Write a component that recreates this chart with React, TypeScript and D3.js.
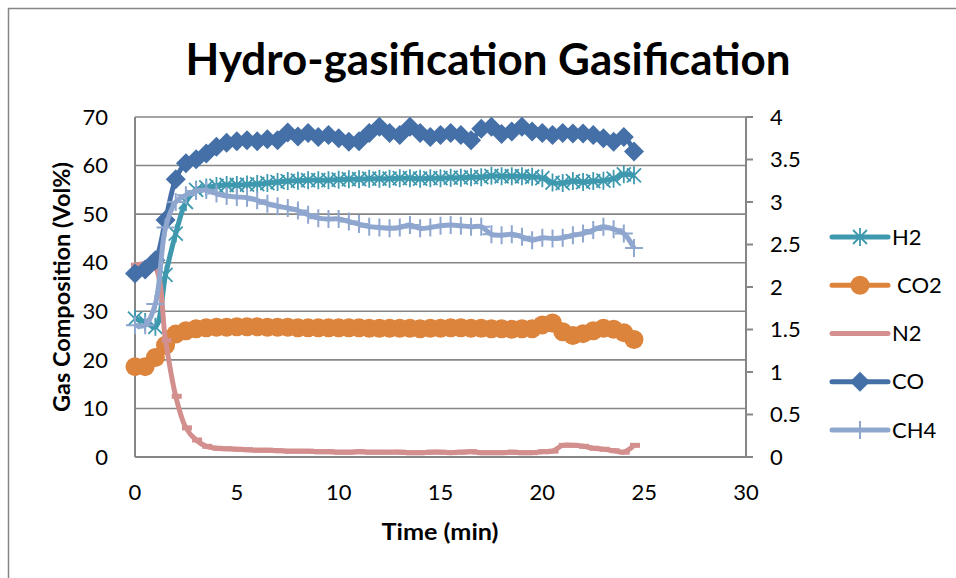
import React from 'react';
import * as d3 from 'd3';

const timeMin = [0, 0.5, 1, 1.5, 2, 2.5, 3, 3.5, 4, 4.5, 5, 5.5, 6, 6.5, 7, 7.5, 8, 8.5, 9, 9.5,
  10, 10.5, 11, 11.5, 12, 12.5, 13, 13.5, 14, 14.5, 15, 15.5, 16, 16.5, 17, 17.5, 18, 18.5, 19, 19.5,
  20, 20.5, 21, 21.5, 22, 22.5, 23, 23.5, 24, 24.5];

const h2 = [28.5, 27.8, 26.8, 37.5, 46, 52.5, 55, 55.5, 55.8, 56, 56, 56.1, 56.2, 56.4, 56.6, 56.8, 56.9, 57, 57, 57,
  57.1, 57.2, 57.2, 57.3, 57.3, 57.3, 57.4, 57.4, 57.3, 57.4, 57.4, 57.5, 57.5, 57.6, 57.6, 57.9, 57.8, 57.8, 57.8, 57.7,
  57.4, 56.5, 56.4, 56.8, 56.6, 56.8, 56.9, 57.3, 58.2, 58];

const co2 = [18.6, 18.6, 20.5, 23, 25.3, 26, 26.4, 26.6, 26.7, 26.7, 26.8, 26.8, 26.8, 26.7, 26.7, 26.7, 26.6, 26.6, 26.6, 26.6,
  26.6, 26.6, 26.6, 26.5, 26.5, 26.5, 26.5, 26.5, 26.4, 26.5, 26.5, 26.6, 26.6, 26.5, 26.5, 26.4, 26.4, 26.3, 26.4, 26.4,
  27.2, 27.6, 25.8, 25.0, 25.4, 26.0, 26.5, 26.3, 25.6, 24.2];

const n2 = [39.5, 39.7, 39, 24, 12.5, 6, 3.5, 2.2, 1.8, 1.7, 1.6, 1.5, 1.4, 1.4, 1.3, 1.2, 1.2, 1.2, 1.1, 1.1,
  1.0, 1.0, 1.1, 1.0, 1.0, 1.0, 1.0, 0.9, 0.9, 1.0, 1.0, 0.9, 1.0, 1.1, 0.9, 0.9, 0.9, 1.0, 0.9, 0.9,
  1.1, 1.2, 2.4, 2.4, 2.2, 1.8, 1.6, 1.3, 1.0, 2.4];

const co = [37.8, 38.6, 40.5, 48.8, 57.2, 60.5, 61.3, 62.5, 63.9, 64.7, 65, 65.2, 65, 65.4, 65.2, 66.8, 66, 66.7, 65.9, 66.3,
  65.6, 64.9, 65, 66.7, 68, 66.7, 66.3, 68, 66.7, 65.9, 66.3, 66.7, 66.3, 65.2, 67.6, 68, 66.5, 67, 68, 67,
  66.7, 66.3, 66.7, 66.6, 66.6, 66.3, 65.6, 64.9, 65.9, 62.9];

// CH4 is on the secondary (right) axis
const ch4 = [1.55, 1.55, 1.8, 2.7, 3.0, 3.08, 3.13, 3.14, 3.1, 3.07, 3.06, 3.05, 3.02, 2.98, 2.95, 2.93, 2.9, 2.85, 2.81, 2.8,
  2.8, 2.77, 2.74, 2.71, 2.7, 2.69, 2.7, 2.73, 2.69, 2.7, 2.72, 2.73, 2.72, 2.71, 2.71, 2.62, 2.61, 2.62, 2.59, 2.55,
  2.58, 2.57, 2.58, 2.61, 2.63, 2.67, 2.71, 2.68, 2.63, 2.46];

const xTicks = [0, 5, 10, 15, 20, 25, 30];
const yLeftTicks = [0, 10, 20, 30, 40, 50, 60, 70];
const yRightTicks = [0, 0.5, 1, 1.5, 2, 2.5, 3, 3.5, 4];

const FONT = 'Lato, "Open Sans", sans-serif';
const GRID = '#868686';

type Series = { name: string; values: number[]; color: string; marker: string; right?: boolean };

const series: Series[] = [
  { name: 'H2', values: h2, color: '#3E99AF', marker: 'star' },
  { name: 'CO2', values: co2, color: '#DC843C', marker: 'circle' },
  { name: 'N2', values: n2, color: '#D38F8E', marker: 'dash' },
  { name: 'CO', values: co, color: '#4470A7', marker: 'diamond' },
  { name: 'CH4', values: ch4, color: '#8FA7CF', marker: 'plus', right: true },
];

const Marker = ({ kind, color, x, y }: { kind: string; color: string; x: number; y: number }) => {
  if (kind === 'circle') return <circle cx={x} cy={y} r={9.5} fill={color} />;
  if (kind === 'diamond')
    return <path d={`M${x},${y - 10}L${x + 10},${y}L${x},${y + 10}L${x - 10},${y}Z`} fill={color} />;
  if (kind === 'dash') return <rect x={x - 4} y={y - 2.5} width={10} height={5} fill={color} />;
  if (kind === 'plus')
    return <path d={`M${x},${y - 9}V${y + 9}M${x - 9},${y}H${x + 9}`} stroke={color} strokeWidth={2} />;
  // star (asterisk)
  return (
    <path
      d={`M${x - 7},${y - 7}L${x + 7},${y + 7}M${x - 7},${y + 7}L${x + 7},${y - 7}M${x},${y - 9}V${y + 9}`}
      stroke={color}
      strokeWidth={1.8}
      fill="none"
    />
  );
};

export default function App() {
  const margin = { left: 135, right: 746, top: 117, bottom: 457 };

  const x = d3.scaleLinear().domain([0, 30]).range([margin.left, margin.right]);
  const yL = d3.scaleLinear().domain([0, 70]).range([margin.bottom, margin.top]);
  const yR = d3.scaleLinear().domain([0, 4]).range([margin.bottom, margin.top]);

  const lineFor = (s: Series) =>
    d3
      .line<number>()
      .x((_, i) => x(timeMin[i]))
      .y((v) => (s.right ? yR(v) : yL(v)))
      .curve(d3.curveCatmullRom.alpha(0.5))(s.values) || '';

  const legendY = d3.scalePoint<string>().domain(series.map((s) => s.name)).range([237, 430]);

  return (
    <svg
      width={956}
      height={578}
      style={{ position: 'absolute', left: 0, top: 0, background: '#fff' }}
      fontFamily={FONT}
    >
      <rect x={8.5} y={8.5} width={1000} height={600} fill="#fff" stroke={GRID} strokeWidth={1.5} />

      <text x={488} y={75} textAnchor="middle" fontSize={43} fontWeight="bold" textLength={605} lengthAdjust="spacingAndGlyphs">
        Hydro-gasification Gasification
      </text>

      {/* gridlines */}
      {yLeftTicks.slice(1).map((t) => (
        <line key={t} x1={margin.left} x2={margin.right} y1={yL(t)} y2={yL(t)} stroke={GRID} strokeWidth={1.6} />
      ))}
      {/* axes */}
      <line x1={margin.left} x2={margin.left} y1={margin.top} y2={margin.bottom} stroke={GRID} strokeWidth={2} />
      <line x1={margin.left} x2={margin.right} y1={margin.bottom} y2={margin.bottom} stroke={GRID} strokeWidth={2} />
      <line x1={margin.right} x2={margin.right} y1={margin.top} y2={margin.bottom} stroke={GRID} strokeWidth={2} />
      {yRightTicks.map((t) => (
        <line key={t} x1={margin.right} x2={margin.right + 7} y1={yR(t)} y2={yR(t)} stroke={GRID} strokeWidth={2} />
      ))}

      {/* tick labels */}
      {yLeftTicks.map((t) => (
        <text key={t} x={108} y={yL(t)} dy="0.35em" textAnchor="end" fontSize={22}>
          {t}
        </text>
      ))}
      {yRightTicks.map((t) => (
        <text key={t} x={770} y={yR(t)} dy="0.35em" textAnchor="start" fontSize={22}>
          {t}
        </text>
      ))}
      {xTicks.map((t) => (
        <text key={t} x={x(t)} y={492} dy="0.35em" textAnchor="middle" fontSize={22}>
          {t}
        </text>
      ))}

      <text x={440} y={532} dy="0.35em" textAnchor="middle" fontSize={23} fontWeight="bold" textLength={117} lengthAdjust="spacingAndGlyphs">
        Time (min)
      </text>
      <text
        transform={`translate(62,${287}) rotate(-90)`}
        textAnchor="middle"
        dy="0.35em"
        fontSize={23}
        fontWeight="bold"
        textLength={250}
        lengthAdjust="spacingAndGlyphs"
      >
        Gas Composition (Vol%)
      </text>

      {/* series */}
      {series.map((s) => (
        <g key={s.name}>
          <path d={lineFor(s)} fill="none" stroke={s.color} strokeWidth={5} strokeLinejoin="round" />
          {s.values.map((v, i) => (
            <Marker key={i} kind={s.marker} color={s.color} x={x(timeMin[i])} y={s.right ? yR(v) : yL(v)} />
          ))}
        </g>
      ))}

      {/* legend */}
      {series.map((s) => {
        const ly = legendY(s.name) as number;
        return (
          <g key={s.name}>
            <line x1={832} x2={888} y1={ly} y2={ly} stroke={s.color} strokeWidth={5} strokeLinecap="round" />
            {s.marker !== 'dash' && <Marker kind={s.marker} color={s.color} x={860} y={ly} />}
            <text x={s.name === 'CO2' ? 897 : 892} y={ly} dy="0.35em" fontSize={22}>
              {s.name}
            </text>
          </g>
        );
      })}
    </svg>
  );
}
